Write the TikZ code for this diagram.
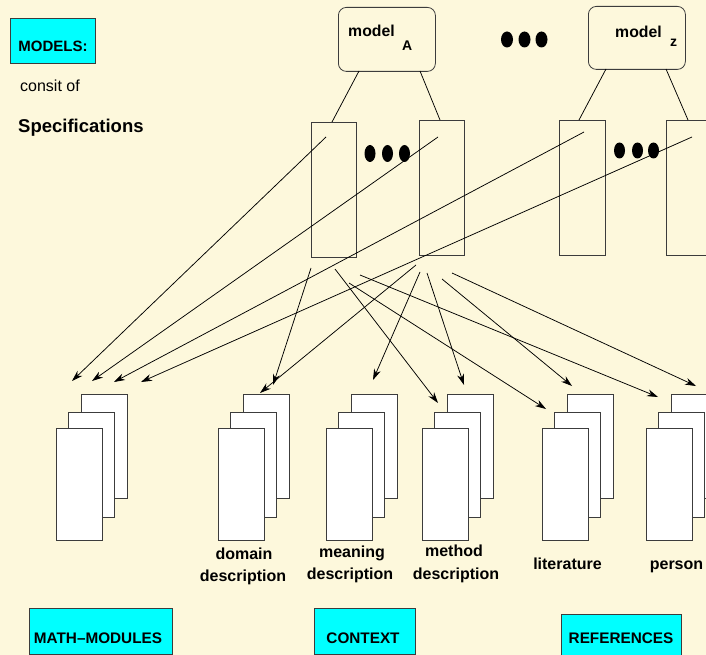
\documentclass[tikz,border=0pt]{standalone}
\usepackage{fontspec}
\setmainfont{Liberation Sans}
\usetikzlibrary{arrows.meta}
\definecolor{bg}{RGB}{253,248,220}
\definecolor{boxcyan}{RGB}{0,255,255}
\definecolor{edgegray}{RGB}{60,60,60}
\begin{document}
\begin{tikzpicture}[x=1pt,y=-1pt,
  tagbox/.style={draw=edgegray, fill=boxcyan, line width=0.8pt, inner sep=0pt, anchor=north west},
  tagtext/.style={font=\bfseries\fontsize{15.3}{18}\selectfont, inner sep=0pt, anchor=base},
  modelbox/.style={draw=edgegray, rounded corners=8pt, line width=0.8pt, inner sep=0pt, anchor=north west, minimum width=97pt},
  modeltext/.style={font=\bfseries\fontsize{15.8}{18}\selectfont, inner sep=0pt, anchor=base west},
  subtext/.style={font=\bfseries\fontsize{14}{16}\selectfont, inner sep=0pt, anchor=base west},
  specbox/.style={draw=edgegray, line width=0.8pt, inner sep=0pt, anchor=north west, minimum width=45pt, minimum height=135pt},
  sheet/.style={draw=edgegray, fill=white, line width=0.8pt, inner sep=0pt, anchor=north west, minimum width=46pt},
  doclabel/.style={font=\bfseries\fontsize{16}{19}\selectfont, inner sep=0pt, anchor=base},
  dot/.style={fill=black},
  link/.style={line width=0.75pt},
  arr/.style={link, -{Stealth[length=11pt,width=7pt,inset=3.5pt]}}
]
\useasboundingbox (0,0) rectangle (706,655);
\fill[bg] (0,0) rectangle (706,655);

% ---- header texts
\node[tagbox, minimum width=85pt, minimum height=45pt] (modelsbox) at (10,18) {};
\node[font=\bfseries\fontsize{15}{18}\selectfont, inner sep=0pt, anchor=base] (models) at (53,52) {MODELS:};
\node[font=\fontsize{16}{19}\selectfont, inner sep=0pt, anchor=base west] (consit) at (20,92) {consit of};
\node[font=\bfseries\fontsize{18.5}{22}\selectfont, inner sep=0pt, anchor=base west] (specs) at (18,133) {Specifications};

% ---- model boxes
\node[modelbox, minimum height=64pt] (modelA) at (338,7) {};
\node[modeltext] (modelAt) at (348,37) {model};
\node[subtext] (modelAs) at (402,51) {A};
\node[modelbox, minimum height=63pt] (modelZ) at (588,6) {};
\node[modeltext] (modelZt) at (615,38) {model};
\node[subtext] (modelZs) at (670,47) {z};

\foreach \cx in {507,524.5,541.5} \fill[dot] (\cx,39.5) ellipse [x radius=6pt, y radius=8pt];

% ---- specification boxes
\node[specbox] (specA1) at (311,122) {};
\node[specbox] (specA2) at (419,120) {};
\node[specbox, minimum width=46pt] (specZ1) at (559,120) {};
\node[specbox] (specZ2) at (666,120) {};

\foreach \cx in {370,387.5,404.5} \fill[dot] (\cx,153.5) ellipse [x radius=5.5pt, y radius=8.5pt];
\foreach \cx in {619.5,637.5,653.5} \fill[dot] (\cx,150.5) ellipse [x radius=5.5pt, y radius=8pt];

% ---- model -> specification lines
\coordinate (mA1) at (359,71);  \coordinate (sA1) at (332,122);
\coordinate (mA2) at (420,71);  \coordinate (sA2) at (440,120);
\coordinate (mZ1) at (606,69);  \coordinate (sZ1) at (579,120);
\coordinate (mZ2) at (666,69);  \coordinate (sZ2) at (688,120);
\draw[link] (mA1) -- (sA1);
\draw[link] (mA2) -- (sA2);
\draw[link] (mZ1) -- (sZ1);
\draw[link] (mZ2) -- (sZ2);

% ---- arrows to math modules
\coordinate (pA1) at (326,137); \coordinate (tm1) at (72,381);
\coordinate (pA2) at (438,137); \coordinate (tm2) at (92,381);
\coordinate (pZ1) at (584,132); \coordinate (tm3) at (114,382);
\coordinate (pZ2) at (692,137); \coordinate (tm4) at (141,382);
\draw[arr] (pA1) -- (tm1);
\draw[arr] (pA2) -- (tm2);
\draw[arr] (pZ1) -- (tm3);
\draw[arr] (pZ2) -- (tm4);

% ---- arrows to context / references
\coordinate (sa) at (311,268); \coordinate (t2) at (273,385);
\coordinate (sb) at (335,269); \coordinate (t4) at (438,403);
\coordinate (sc) at (360,275); \coordinate (t8) at (658,397);
\coordinate (sd) at (349,283); \coordinate (t6) at (546,409);
\coordinate (se) at (416,265); \coordinate (t1) at (260,393);
\coordinate (sf) at (420,272); \coordinate (t3) at (373,380);
\coordinate (sg) at (427,273); \coordinate (t5) at (464,385);
\coordinate (sh) at (442,279); \coordinate (t7) at (572,386);
\coordinate (si) at (452,273); \coordinate (t9) at (696,386);
\draw[arr] (sa) -- (t2);
\draw[arr] (sb) -- (t4);
\draw[arr] (sc) -- (t8);
\draw[arr] (sd) -- (t6);
\draw[arr] (se) -- (t1);
\draw[arr] (sf) -- (t3);
\draw[arr] (sg) -- (t5);
\draw[arr] (sh) -- (t7);
\draw[arr] (si) -- (t9);

% ---- document stacks
\foreach \name/\fx in {math/56, domain/218, meaning/326, method/422, lit/542, person/646} {
  \node[sheet, minimum height=104pt] (\name-back) at (\fx+25,394) {};
  \node[sheet, minimum height=105pt] (\name-mid) at (\fx+12,412) {};
  \node[sheet, minimum height=112pt] (\name-front) at (\fx,428) {};
}

% ---- stack labels
\node[doclabel] (domainl1) at (244,559) {domain};
\node[doclabel] (domainl2) at (243,581) {description};
\node[doclabel] (meaningl1) at (352,557) {meaning};
\node[doclabel] (meaningl2) at (350,579) {description};
\node[doclabel] (methodl1) at (454,556) {method};
\node[doclabel] (methodl2) at (456,579) {description};
\node[doclabel] (litl) at (567.5,569) {literature};
\node[doclabel] (personl) at (676.5,569) {person};

% ---- bottom category boxes
\node[tagbox, minimum width=143pt, minimum height=46pt] (mathbox) at (29,608) {};
\node[tagtext] (mathtext) at (98,643) {MATH--MODULES};
\node[tagbox, minimum width=101pt, minimum height=46pt] (contextbox) at (314,608) {};
\node[tagtext] (contexttext) at (363,643) {CONTEXT};
\node[tagbox, minimum width=120pt, minimum height=46pt] (refbox) at (561,614) {};
\node[tagtext] (reftext) at (621,643) {REFERENCES};
\end{tikzpicture}
\end{document}
